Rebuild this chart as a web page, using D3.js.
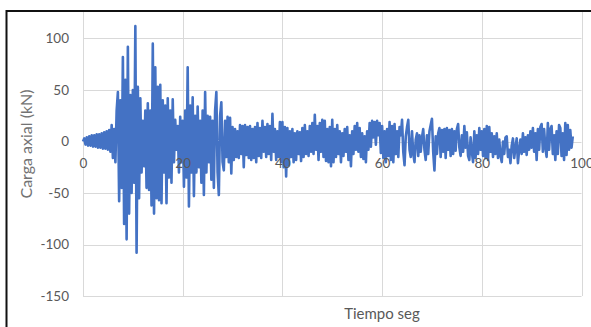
<!DOCTYPE html>
<html>
<head>
<meta charset="utf-8">
<script src="https://cdn.jsdelivr.net/npm/d3@7"></script>
<style>
  html, body { margin: 0; padding: 0; background: #fff; }
  svg { display: block; }
</style>
</head>
<body>
<svg id="chart" width="591" height="327"></svg>
<script>
// Registro de carga axial, muestreado cada 0.25 s
const dt = 0.25;
const carga = [
  // 0 - 5 s
  0, 3, -3, 4, -4, 5, -4, 6, -5, 6, -5, 7, -6, 7, -6, 8, -7, 9, -7, 10,
  // 5 - 10 s
  -8, 11, -10, 16, -16, 12, -20, 30, 48, -58, 40, -45, 82, -80, 60, -95, 92, -70, 45, -50,
  // 10 - 15 s
  50, -40, 112, -108, 53, -55, 42, -30, 20, -24, 30, -45, 37, -47, 30, -62, 95, -70, 72, -55,
  // 15 - 20 s
  53, -57, 55, -60, 40, -30, 35, -60, 42, -35, 30, -40, 41, -20, 21, -8, 15, -30, 24, -20,
  // 20 - 25 s
  20, -44, 30, -35, 72, -63, 35, -30, 43, -53, 25, -30, 34, -25, 20, -40, 30, -52, 48, -30,
  // 25 - 30 s
  25, -20, 24, -37, 20, -45, 30, 48, -30, -52, 25, 38, -20, -28, 20, -15, 24, -20, 23, -31,
  // 30 - 35 s
  14, -18, 12, -15, 10, -16, 16, -12, 15, -25, 16, -13, 14, -16, 15, -18, 12, -16, 14, -20,
  // 35 - 40 s
  18, -14, 13, -16, 20, -10, 14, -15, 17, -12, 15, -18, 27, -10, 12, -18, 10, -15, 19, -20,
  // 40 - 45 s
  19, -25, 14, -34, 13, -23, 10, -15, 12, -20, 8, -18, 10, -12, 9, -19, 13, -15, 16, -12,
  // 45 - 50 s
  10, -14, 15, -10, 18, -12, 26, -8, 15, -18, 18, -10, 21, -15, 20, -19, 12, -20, 14, -24,
  // 50 - 55 s
  21, -20, 12, -15, 16, -12, 10, -20, 8, -14, 12, -10, 14, -18, 6, -24, 10, -12, 15, -8,
  // 55 - 60 s
  18, -10, 13, -15, 8, -17, 5, -20, 10, -8, 18, -5, 20, 4, 19, -3, 20, 6, 18, -11,
  // 60 - 65 s
  15, -16, 10, -20, 12, -14, 19, -18, 15, -20, 17, -12, 10, -15, 14, 6, 21, -10, -23, 5,
  // 65 - 70 s
  14, 21, -8, -15, 10, -12, -20, 2, 8, -14, 6, -10, 4, 12, -8, -18, 6, -12, 10, 16,
  // 70 - 75 s
  22, -10, -28, 5, -12, 8, 13, -15, 11, -10, 12, -16, 13, -8, 11, -14, 12, -12, 10, -9,
  // 75 - 80 s
  12, 17, -6, -14, 6, -10, 15, -6, 9, -14, -18, 4, -10, -20, 10, -16, 6, -12, 13, -8,
  // 80 - 85 s
  10, -14, 12, -16, 15, -18, 14, -10, 8, -15, 5, -12, 8, -16, 2, -14, -20, 0, -12, 4,
  // 85 - 90 s
  5, -15, -8, -21, -4, 3, -16, -6, 3, -21, -8, 2, -12, 8, -10, 4, -13, 6, -8, 10,
  // 90 - 95 s
  -6, 13, -10, 8, -18, 12, -8, 14, 17, -10, 12, -6, -15, 18, -8, 12, 15, -12, 6, -18,
  // 95 - 98.25 s
  10, -12, 16, 13, -14, 8, -18, 18, -13, 16, -8, 11, -6, 5
];

const xTicks = [0, 20, 40, 60, 80, 100];
const yTicks = [-150, -100, -50, 0, 50, 100, 150];
const tituloY = "Carga axial (kN)";
const tituloX = "Tiempo seg";

const serie = carga.map((v, i) => ({ t: i * dt, v }));

const svg = d3.select("#chart");
const W = 591, H = 327;
const font = "Lato, 'Open Sans', sans-serif";

const x = d3.scaleLinear().domain([0, 100]).range([83, 581.5]);
const y = d3.scaleLinear().domain([-150, 150]).range([296, -13]);

// Gridlines
const grid = svg.append("g");
grid.selectAll("line.h").data(yTicks).join("line")
  .attr("x1", x(0)).attr("x2", x(100))
  .attr("y1", d => Math.round(y(d)) + 0.5).attr("y2", d => Math.round(y(d)) + 0.5)
  .attr("stroke", "#d9d9d9").attr("stroke-width", 1);
grid.selectAll("line.v").data(xTicks).join("line")
  .attr("x1", d => Math.round(x(d)) + 0.5).attr("x2", d => Math.round(x(d)) + 0.5)
  .attr("y1", y(-150)).attr("y2", y(150))
  .attr("stroke", "#d9d9d9").attr("stroke-width", 1);

// Series line
const line = d3.line().x(d => x(d.t)).y(d => y(d.v));
svg.append("path").datum(serie)
  .attr("d", line)
  .attr("fill", "none")
  .attr("stroke", "#4472C4")
  .attr("stroke-width", 2.6)
  .attr("stroke-linejoin", "round");

// Axes (labels only, lines hidden), drawn over the series
const yAxis = d3.axisLeft(y).tickValues(yTicks.filter(d => d < 150))
  .tickFormat(d => String(d)).tickSize(0).tickPadding(0);
const gy = svg.append("g").attr("transform", "translate(69,0)").call(yAxis);
gy.select(".domain").remove();
gy.selectAll("text").attr("font-family", font).attr("font-size", 13.5).attr("fill", "#595959");

const xAxis = d3.axisBottom(x).tickValues(xTicks).tickFormat(d => String(d)).tickSize(0).tickPadding(0);
const gx = svg.append("g").attr("transform", `translate(0,${y(0) + 22})`).call(xAxis);
gx.select(".domain").remove();
gx.selectAll("text").attr("font-family", font).attr("font-size", 13.5).attr("fill", "#595959")
  .attr("dy", "0.32em");

// Axis titles
svg.append("text")
  .attr("transform", "translate(28,144) rotate(-90)")
  .attr("text-anchor", "middle").attr("dominant-baseline", "middle")
  .attr("font-family", font).attr("font-size", 16).attr("fill", "#737373")
  .text(tituloY);
svg.append("text")
  .attr("x", 382).attr("y", 315)
  .attr("text-anchor", "middle").attr("dominant-baseline", "middle")
  .attr("font-family", font).attr("font-size", 15).attr("fill", "#595959")
  .text(tituloX);

// Frame
svg.append("rect").attr("x", 0).attr("y", 0).attr("width", W).attr("height", 10.5).attr("fill", "#fff");
svg.append("path")
  .attr("d", `M6.5,${H} L6.5,11 L${W},11`)
  .attr("fill", "none").attr("stroke", "#111").attr("stroke-width", 2);
</script>
</body>
</html>
